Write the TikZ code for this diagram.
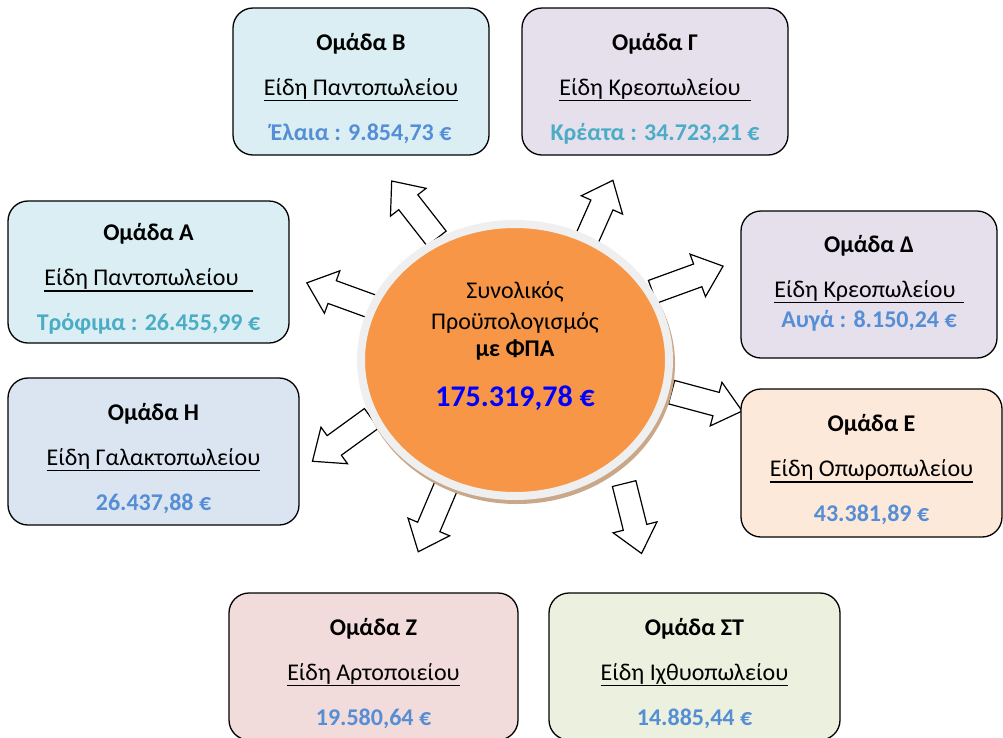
\documentclass[tikz,border=0pt]{standalone}
\usepackage{fontspec}
\setmainfont{Carlito}
\usetikzlibrary{shapes.geometric,shapes.arrows,shadows}

\definecolor{paleblue}{HTML}{DAEEF3}
\definecolor{palelilac}{HTML}{E5E0EC}
\definecolor{palesteel}{HTML}{DBE5F1}
\definecolor{palepeach}{HTML}{FDE9D9}
\definecolor{palerose}{HTML}{F2DCDB}
\definecolor{palegreen}{HTML}{EBF1DE}
\definecolor{budgetorange}{HTML}{F79646}
\definecolor{ringgray}{HTML}{EFEFEF}
\definecolor{shadowtan}{HTML}{C9A88A}
\definecolor{sumblue}{HTML}{558ED5}
\definecolor{sumteal}{HTML}{4BACC6}

% underline a whole line, trailing space included
\newcommand{\shopline}[1]{\setbox0\hbox{#1}\rlap{\rule[-6pt]{\wd0}{1.5pt}}\box0}

\tikzset{
  grpbox/.style={draw, line width=1.3pt, rounded corners=20pt, minimum height=147pt,
    minimum width=#1, align=center, inner sep=0pt, font=\fontsize{24}{45}\selectfont},
  blockarrow/.style={single arrow, draw, fill=white, line width=1.2pt, minimum height=#1,
    inner xsep=0pt, inner ysep=11.5pt, single arrow head extend=10.5pt,
    single arrow tip angle=80, anchor=tail},
  blockarrow/.default=73pt,
}

\begin{document}
\begin{tikzpicture}[x=1pt, y=-1pt]
  \useasboundingbox (0,0) rectangle (1003,737);

  % arrows out of the budget
  \node[blockarrow, rotate=128] (toB) at (437,239) {};
  \node[blockarrow=68pt, rotate=66] (toG) at (585,243) {};
  \node[blockarrow, rotate=160] (toA) at (376,308) {};
  \node[blockarrow=75pt, rotate=20] (toD) at (652,292) {};
  \node[blockarrow, rotate=-15] (toE) at (671,392) {};
  \node[blockarrow=72pt, rotate=-76] (toST) at (624,483) {};
  \node[blockarrow, rotate=-113] (toZ) at (447,484) {};
  \node[blockarrow, rotate=-144] (toH) at (372,418) {};

  % total budget
  \node[ellipse, fill=budgetorange, draw=ringgray, line width=8pt,
    minimum width=308pt, minimum height=272pt,
    general shadow={draw=shadowtan, fill=shadowtan, line width=8pt, shadow xshift=2pt, shadow yshift=-4pt},
    align=center, font=\fontsize{24}{31}\selectfont] (total) at (515,360)
    {Συνολικός\\ Προϋπολογισμός\\[-4pt] \textbf{με ΦΠΑ}\\[19pt]
     {\fontsize{30}{30}\selectfont\bfseries\textcolor{blue}{175.319,78 €}}\rule[-32pt]{0pt}{32pt}};

  % groups
  \node[grpbox=256pt, fill=paleblue] (grpB) at (361,81.5)
    {\rule{0pt}{32pt}\textbf{Ομάδα Β}\\ \shopline{Είδη Παντοπωλείου}\\
     \textcolor{sumblue}{\textbf{Έλαια : 9.854,73 €}}\rule[-5pt]{0pt}{5pt}};
  \node[grpbox=266pt, fill=palelilac] (grpG) at (655,81.5)
    {\rule{0pt}{32pt}\textbf{Ομάδα Γ}\\ \shopline{Είδη Κρεοπωλείου\hspace{10pt}}\\
     \textcolor{sumteal}{\textbf{Κρέατα : 34.723,21 €}}\rule[-5pt]{0pt}{5pt}};
  \node[grpbox=281pt, minimum height=142pt, fill=paleblue] (grpA) at (148.5,272)
    {\rule{0pt}{32pt}\textbf{Ομάδα Α}\\ \shopline{Είδη Παντοπωλείου\hspace{14pt}}\\
     \textcolor{sumteal}{\textbf{Τρόφιμα : 26.455,99 €}}\rule[-5pt]{0pt}{5pt}};
  \node[grpbox=256pt, fill=palelilac] (grpD) at (869,284.5)
    {\rule{0pt}{32pt}\textbf{Ομάδα Δ}\\ \shopline{Είδη Κρεοπωλείου\hspace{8pt}}\\[-15pt]
     \textcolor{sumblue}{\textbf{Αυγά : 8.150,24 €}}\rule[-22pt]{0pt}{22pt}};
  \node[grpbox=291pt, fill=palesteel] (grpH) at (153.5,451.5)
    {\rule{0pt}{32pt}\textbf{Ομάδα Η}\\ \shopline{Είδη Γαλακτοπωλείου}\\
     \textcolor{sumblue}{\textbf{26.437,88 €}}\rule[-5pt]{0pt}{5pt}};
  \node[grpbox=261pt, minimum height=148pt, fill=palepeach] (grpE) at (871.5,463)
    {\rule{0pt}{32pt}\textbf{Ομάδα Ε}\\ \shopline{Είδη Οπωροπωλείου}\\
     \textcolor{sumblue}{\textbf{43.381,89 €}}\rule[-5pt]{0pt}{5pt}};
  \node[grpbox=289pt, fill=palerose] (grpZ) at (373.5,666.5)
    {\rule{0pt}{32pt}\textbf{Ομάδα Ζ}\\ \shopline{Είδη Αρτοποιείου}\\
     \textcolor{sumblue}{\textbf{19.580,64 €}}\rule[-5pt]{0pt}{5pt}};
  \node[grpbox=291pt, fill=palegreen] (grpST) at (694.5,666.5)
    {\rule{0pt}{32pt}\textbf{Ομάδα ΣΤ}\\ \shopline{Είδη Ιχθυοπωλείου}\\
     \textcolor{sumblue}{\textbf{14.885,44 €}}\rule[-5pt]{0pt}{5pt}};
\end{tikzpicture}
\end{document}
